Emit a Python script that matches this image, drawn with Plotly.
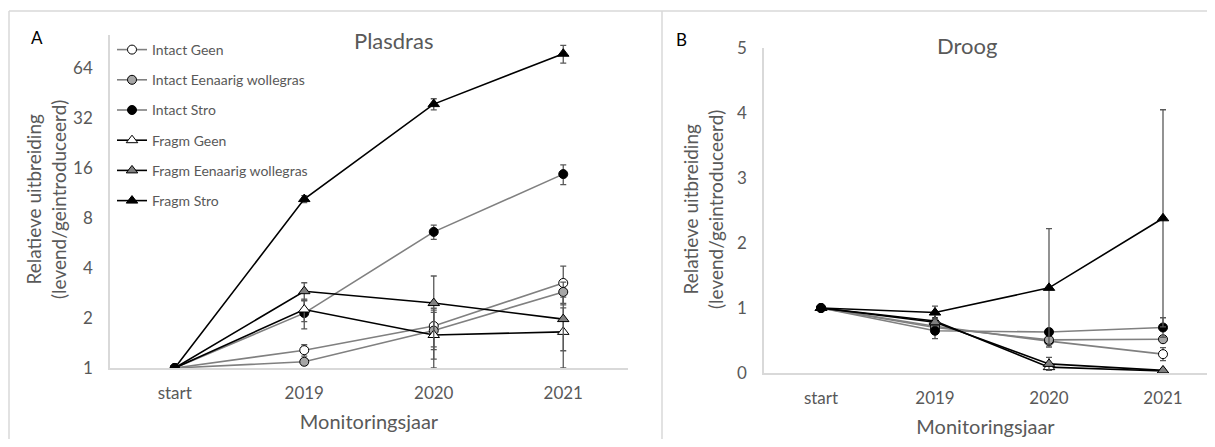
import math
import plotly.graph_objects as go

categories = ["start", "2019", "2020", "2021"]
series_names = ["Intact Geen", "Intact Eenaarig wollegras", "Intact Stro",
                "Fragm Geen", "Fragm Eenaarig wollegras", "Fragm Stro"]

# Plasdras (panel A)
intact_geen_p = [1, 1.28, 1.79, 3.25]
intact_een_p = [1, 1.09, 1.68, 2.87]
intact_stro_p = [1, 2.14, 6.6, 14.7]
fragm_geen_p = [1, 2.25, 1.58, 1.65]
fragm_een_p = [1, 2.9, 2.46, 1.97]
fragm_stro_p = [1, 10.4, 38.8, 78]
err_intact_geen_p = [0, 0.1, 0.5, 0.85]
err_intact_een_p = [0, 0.05, 0.55, 0.42]
err_intact_stro_p = [0, 0.42, 0.65, 2.0]
err_fragm_geen_p = [0, 0.35, 0.58, 0.65]
err_fragm_een_p = [0, 0.36, 1.12, 0.7]
err_fragm_stro_p = [0, 0.5, 3.0, 9.5]

# Droog (panel B)
intact_geen_d = [1, 0.72, 0.49, 0.29]
intact_een_d = [1, 0.70, 0.51, 0.52]
intact_stro_d = [1, 0.65, 0.63, 0.70]
fragm_geen_d = [1, 0.80, 0.09, 0.03]
fragm_een_d = [1, 0.78, 0.14, 0.04]
fragm_stro_d = [1, 0.93, 1.31, 2.38]
err_intact_geen_d = [0, 0.08, 0.05, 0.1]
err_intact_een_d = [0, 0.08, 0.06, 0.05]
err_intact_stro_d = [0, 0.12, 0.05, 0.15]
err_fragm_geen_d = [0, 0.05, 0.03, 0.02]
err_fragm_een_d = [0, 0.05, 0.1, 0.02]
err_fragm_stro_d = [0, 0.1, 0.91, 1.67]

y_ticks_a = [1, 2, 4, 8, 16, 32, 64]
y_ticks_b = [0, 1, 2, 3, 4, 5]

FONT = "Lato"
TXT = "#595959"
AXC = "#D9D9D9"
GRAY_LINE = "#808080"
OFF = 8                      # default page body margin
W, H = 1215 - 2 * OFF, 447 - 2 * OFF

styles = [
    dict(line=GRAY_LINE, symbol="circle", fill="white"),
    dict(line=GRAY_LINE, symbol="circle", fill="#A6A6A6"),
    dict(line=GRAY_LINE, symbol="circle", fill="black"),
    dict(line="black", symbol="triangle-up", fill="white"),
    dict(line="black", symbol="triangle-up", fill="#808080"),
    dict(line="black", symbol="triangle-up", fill="black"),
]

data_p = [intact_geen_p, intact_een_p, intact_stro_p, fragm_geen_p, fragm_een_p, fragm_stro_p]
err_p = [err_intact_geen_p, err_intact_een_p, err_intact_stro_p, err_fragm_geen_p, err_fragm_een_p, err_fragm_stro_p]
data_d = [intact_geen_d, intact_een_d, intact_stro_d, fragm_geen_d, fragm_een_d, fragm_stro_d]
err_d = [err_intact_geen_d, err_intact_een_d, err_intact_stro_d, err_fragm_geen_d, err_fragm_een_d, err_fragm_stro_d]

fig = go.Figure()

def add(ys, errs, name, st, xa, ya, show):
    fig.add_trace(go.Scatter(
        x=categories, y=ys, name=name, mode="lines+markers",
        xaxis=xa, yaxis=ya, showlegend=show, legendgroup=name,
        line=dict(color=st["line"], width=1.6),
        marker=dict(symbol=st["symbol"], size=9 if st["symbol"] == "circle" else 10,
                    color=st["fill"], line=dict(color="black", width=1)),
        error_y=dict(type="data", array=errs, visible=True, color=TXT, thickness=1.3, width=3),
    ))

for ys, es, nm, st in zip(data_p, err_p, series_names, styles):
    add(ys, es, nm, st, "x", "y", True)
for ys, es, nm, st in zip(data_d, err_d, series_names, styles):
    add(ys, es, nm, st, "x2", "y2", False)

def px_x(p):
    return min(1.0, (p - OFF) / W)

def px_y(p):
    return max(0.0, 1 - (p - OFF) / H)

top_log2 = (368 - 35) / 50.0
x2_right = 1215 - OFF
x2_span = (x2_right - 764) / 114.0

axis_common = dict(showgrid=False, zeroline=False, showline=True, linecolor=AXC, linewidth=1.5,
                   ticks="", automargin=False, tickfont=dict(family=FONT, size=17, color=TXT))
xtitle = dict(text="Monitoringsjaar", font=dict(family=FONT, size=20, color=TXT), standoff=13)

fig.update_layout(
    width=W, height=H, margin=dict(l=0, r=0, t=0, b=0),
    paper_bgcolor="white", plot_bgcolor="white",
    font=dict(family=FONT, color=TXT),
    xaxis=dict(axis_common, type="category", categoryorder="array", categoryarray=categories,
               domain=[px_x(110), px_x(628)], range=[-0.5, 3.5], anchor="y",
               title=xtitle, ticklabelstandoff=9),
    yaxis=dict(axis_common, type="log", domain=[px_y(368), px_y(35)],
               range=[0, top_log2 * math.log10(2)], tickvals=y_ticks_a,
               ticktext=[str(v) for v in y_ticks_a], anchor="x", ticklabelstandoff=12),
    xaxis2=dict(axis_common, type="category", categoryorder="array", categoryarray=categories,
                domain=[px_x(764), px_x(x2_right)], range=[-0.5, -0.5 + x2_span], anchor="y2",
                title=xtitle, ticklabelstandoff=9),
    yaxis2=dict(axis_common, domain=[px_y(373), px_y(48)], range=[0, 5], tickvals=y_ticks_b,
                anchor="x2", ticklabelstandoff=12),
    legend=dict(x=px_x(112), y=px_y(34), xanchor="left", yanchor="top",
                font=dict(family=FONT, size=14, color=TXT), bgcolor="rgba(0,0,0,0)",
                tracegroupgap=9, traceorder="grouped"),
    shapes=[
        dict(type="line", xref="paper", yref="paper", x0=px_x(9), x1=1, y0=px_y(11), y1=px_y(11),
             line=dict(color=AXC, width=1.5)),
        dict(type="line", xref="paper", yref="paper", x0=px_x(9), x1=px_x(9), y0=0, y1=px_y(11),
             line=dict(color=AXC, width=1.5)),
        dict(type="line", xref="paper", yref="paper", x0=px_x(662), x1=px_x(662), y0=0, y1=px_y(11),
             line=dict(color=AXC, width=1.5)),
    ],
)

def ann(text, x, y, size, color=TXT, angle=0):
    fig.add_annotation(text=text, x=px_x(x), y=px_y(y), xref="paper", yref="paper",
                       showarrow=False, xanchor="center", yanchor="middle", textangle=angle,
                       font=dict(family=FONT, size=size, color=color))

ann("Plasdras", 393, 41, 22)
ann("Droog", 967, 46, 22)
ann("A", 37, 38, 17, "black")
ann("B", 681, 39, 17, "black")
ann("Relatieve uitbreiding<br>(levend/geintroduceerd)", 46, 200, 19, angle=-90)
ann("Relatieve uitbreiding<br>(levend/geintroduceerd)", 703, 210, 19, angle=-90)

fig.write_html("out.html")
